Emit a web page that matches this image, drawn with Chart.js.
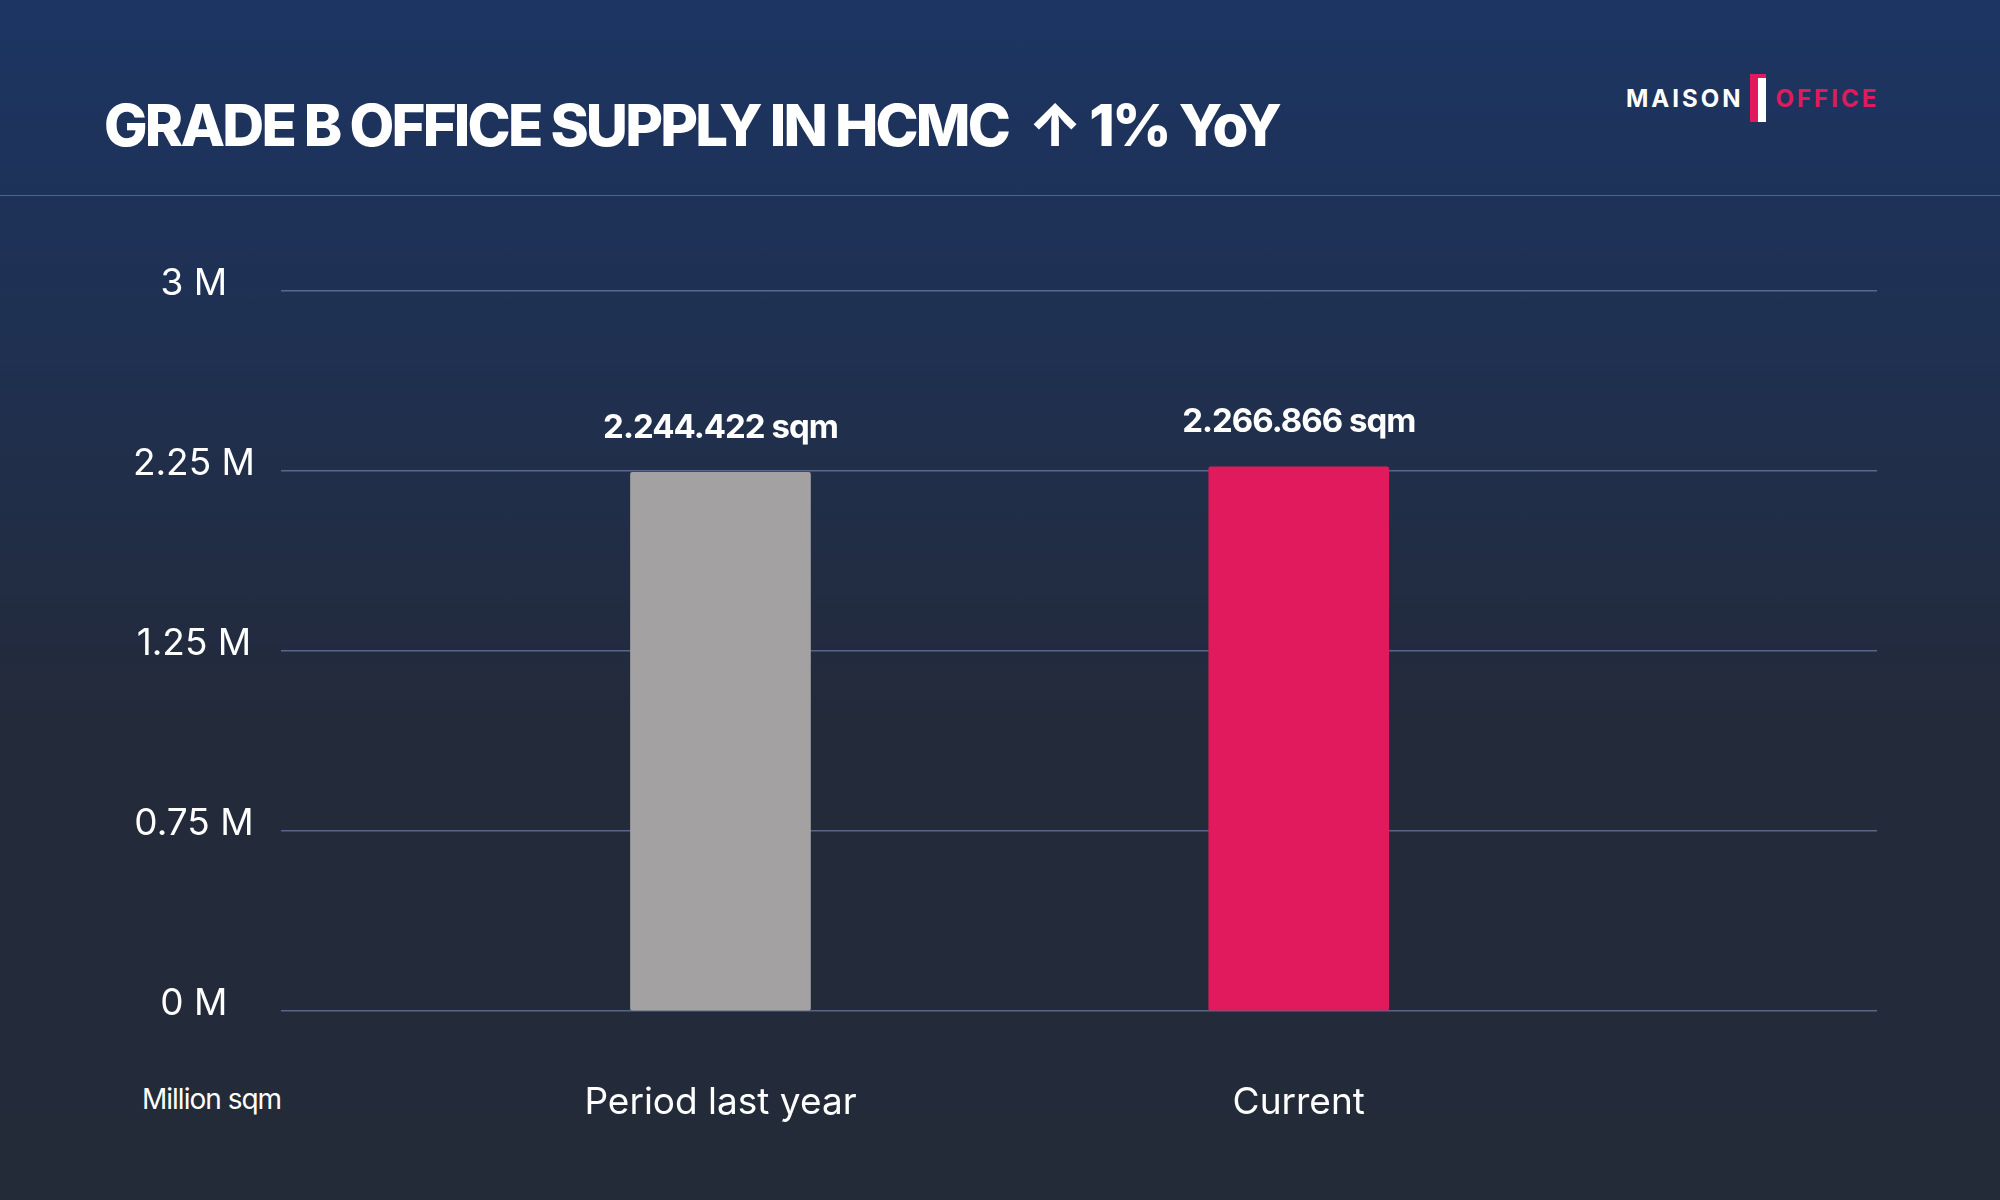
<!DOCTYPE html>
<html><head><meta charset="utf-8">
<script src="https://cdn.jsdelivr.net/npm/chart.js@4"></script>
<style>
html,body{margin:0;padding:0;width:2000px;height:1200px;overflow:hidden;font-family:Inter,"Noto Sans",sans-serif;}
body{background:linear-gradient(180deg,#1c3563 0%,#1f3050 30%,#232a3a 60%,#232a38 100%);position:relative;}
#title{position:absolute;left:104px;top:90px;color:#fff;font-weight:800;font-size:58px;letter-spacing:-2.8px;white-space:nowrap;}
#sep{position:absolute;left:0;right:0;top:195px;height:1px;background:rgba(140,160,200,0.45);}
#logo{position:absolute;left:1626px;top:74px;font-weight:700;font-size:24px;letter-spacing:3px;color:#fff;white-space:nowrap;display:flex;align-items:center;}
#logo .ic{display:inline-block;width:16px;height:48px;background:#e01a5c;margin:0 10px 0 6px;position:relative;}
#logo .ic:after{content:"";position:absolute;left:8px;top:4px;width:8px;height:44px;background:#fff;}
#logo .o{color:#e01a5c;}
#unit{position:absolute;left:142px;top:1082px;color:#fff;font-size:28px;letter-spacing:-1px;}
canvas{position:absolute;left:0;top:0;}
</style></head><body>
<div id="title">GRADE B OFFICE SUPPLY IN HCMC&nbsp; ↑ 1% YoY</div>
<div id="sep"></div>
<div id="logo">MAISON<span class="ic"></span><span class="o">OFFICE</span></div>
<div id="unit">Million sqm</div>
<canvas id="c" width="2000" height="1200"></canvas>
<script>
const categories = ["Period last year", "Current"];
const values = [2244422, 2266866];
const valueLabels = ["2.244.422 sqm", "2.266.866 sqm"];
const barColors = ["#a3a1a2", "#e01a5c"];
const tickValues = [0, 750000, 1500000, 2250000, 3000000];
const tickLabels = ["0 M", "0.75 M", "1.25 M", "2.25 M", "3 M"];

const valuePlugin = {
  id: "vals",
  afterDatasetsDraw(chart) {
    const ctx = chart.ctx;
    const meta = chart.getDatasetMeta(0);
    ctx.save();
    ctx.fillStyle = "#fff";
    ctx.font = "bold 33px Inter, 'Noto Sans', sans-serif";
    if ('letterSpacing' in ctx) ctx.letterSpacing = "-1px";
    ctx.textAlign = "center";
    ctx.textBaseline = "bottom";
    meta.data.forEach((el, i) => {
      ctx.fillText(valueLabels[i], el.x, el.y - 28);
    });
    ctx.restore();
  }
};

new Chart(document.getElementById("c"), {
  type: "bar",
  data: {
    datasets: [{
      data: values.map((v, i) => ({x: i, y: v})),
      backgroundColor: barColors,
      barThickness: 180,
      borderRadius: 2,
      borderSkipped: false
    }]
  },
  options: {
    responsive: false,
    animation: false,
    layout: {padding: {left: 100, right: 123, top: 291, bottom: 0}},
    plugins: {legend: {display: false}, tooltip: {enabled: false}},
    scales: {
      x: {
        type: "linear", min: -0.76, max: 2.0, offset: false,
        grid: {display: false}, border: {display: false},
        afterBuildTicks(s) { s.ticks = categories.map((c, i) => ({value: i})); },
        afterFit(s) { s.height = 189; },
        ticks: {
          color: "#fff", padding: 62,
          font: {size: 37, family: "Inter, 'Noto Sans', sans-serif"},
          callback: (v) => categories[v] ?? ""
        }
      },
      y: {
        min: 0, max: 3000000,
        afterBuildTicks(s) { s.ticks = tickValues.map(v => ({value: v})); },
        afterFit(s) { s.width = 181; },
        grid: {color: "rgba(120,145,190,0.6)", lineWidth: 1.5, drawTicks: false},
        border: {display: false},
        ticks: {
          color: "#fff", padding: 26, crossAlign: "center", labelOffset: -7,
          font: {size: 37, family: "Inter, 'Noto Sans', sans-serif"},
          callback: (v) => tickLabels[tickValues.indexOf(v)]
        }
      }
    }
  },
  plugins: [valuePlugin]
});
</script>
</body></html>
